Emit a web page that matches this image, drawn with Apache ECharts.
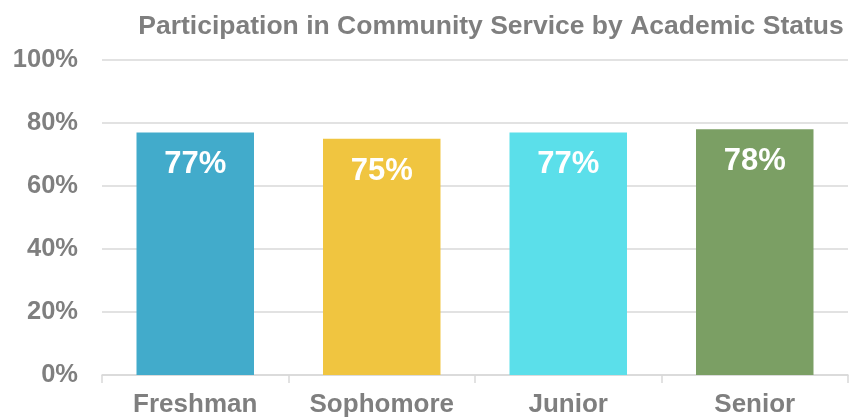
<!DOCTYPE html>
<html>
<head>
<meta charset="utf-8">
<script src="https://cdn.jsdelivr.net/npm/echarts@6/dist/echarts.min.js"></script>
<style>
  html, body { margin: 0; padding: 0; background: #ffffff; }
  #chart { width: 849px; height: 418px; }
</style>
</head>
<body>
<div id="chart"></div>
<script>
// Academic status groups and share of students participating (%)
const categories = ['Freshman', 'Sophomore', 'Junior', 'Senior'];
const participation = [77, 75, 77, 78];
const barColors = ['#42abcb', '#f0c540', '#5bdfea', '#7b9f64'];
const yTicks = [0, 20, 40, 60, 80, 100];

const grey = '#7f7f7f';
const font = 'Liberation Sans, Arial, sans-serif';

const chart = echarts.init(document.getElementById('chart'));
chart.setOption({
  animation: false,
  title: {
    text: 'Participation in Community Service by Academic Status',
    left: 486,
    textAlign: 'center',
    top: 8,
    textStyle: { color: grey, fontSize: 26.5, fontWeight: 'bold', fontFamily: font }
  },
  grid: { left: 102, right: 1, top: 60, bottom: 43, containLabel: false },
  xAxis: {
    type: 'category',
    data: categories,
    axisLine: { lineStyle: { color: '#d9d9d9', width: 1.5 } },
    axisTick: { show: true, interval: 0, length: 8, lineStyle: { color: '#d9d9d9', width: 1.5 } },
    axisLabel: {
      interval: 0,
      color: grey, fontSize: 26, fontWeight: 'bold', fontFamily: font, margin: 17
    }
  },
  yAxis: {
    type: 'value',
    min: yTicks[0],
    max: yTicks[yTicks.length - 1],
    interval: yTicks[1] - yTicks[0],
    axisLine: { show: false },
    axisTick: { show: false },
    splitLine: { lineStyle: { color: '#d9d9d9', width: 1.5 } },
    axisLabel: {
      color: grey, fontSize: 25.5, fontWeight: 'bold', fontFamily: font, margin: 24,
      formatter: v => v + '%'
    }
  },
  series: [{
    type: 'bar',
    barWidth: '63%',
    data: participation.map((v, i) => ({ value: v, itemStyle: { color: barColors[i] } })),
    label: {
      show: true,
      position: 'insideTop',
      distance: 17,
      color: '#ffffff',
      fontSize: 31,
      fontWeight: 'bold',
      fontFamily: font,
      formatter: p => p.value + '%'
    }
  }]
});
</script>
</body>
</html>
